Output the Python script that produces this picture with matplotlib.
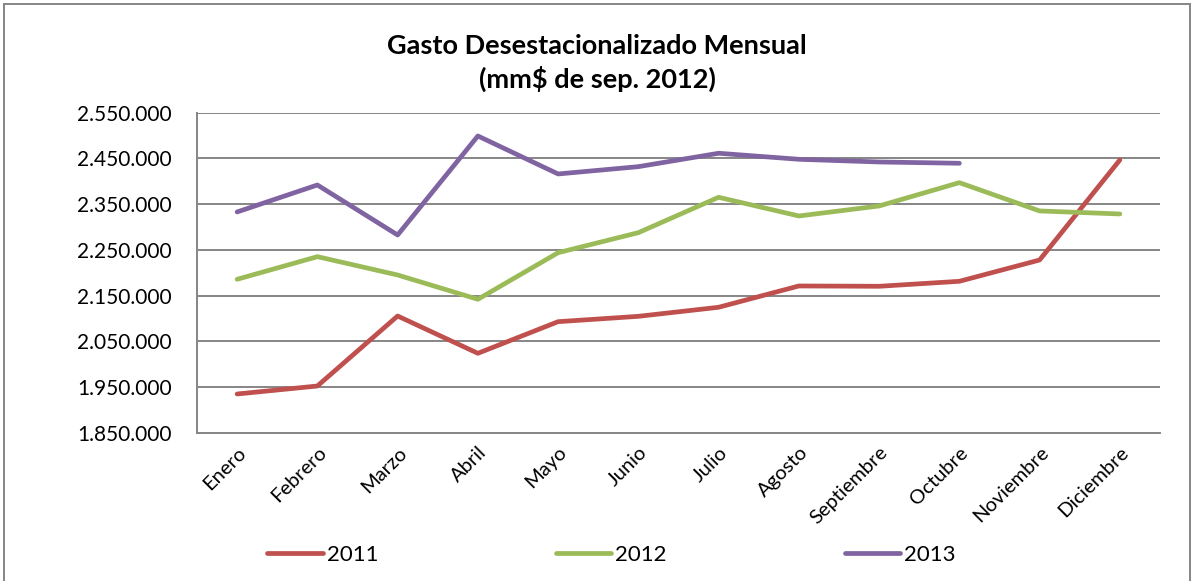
import matplotlib
matplotlib.use("Agg")
import numpy as np
import matplotlib.pyplot as plt
from matplotlib.ticker import FuncFormatter
from matplotlib.patches import Rectangle

# Datos (mm$ de sep. 2012)
meses = ['Enero', 'Febrero', 'Marzo', 'Abril', 'Mayo', 'Junio', 'Julio',
         'Agosto', 'Septiembre', 'Octubre', 'Noviembre', 'Diciembre']
gasto_2011 = [1934600, 1952100, 2105200, 2023600, 2092800, 2104500, 2124300,
              2170900, 2170200, 2181100, 2227700, 2446500]
gasto_2012 = [2185500, 2235000, 2194900, 2141800, 2243700, 2287500, 2364900,
              2324000, 2345900, 2396900, 2335000, 2328400]
gasto_2013 = [2332800, 2391800, 2282400, 2499000, 2415900, 2431900, 2461200,
              2448000, 2442100, 2439300]

plt.rcParams['font.family'] = ['Lato', 'DejaVu Sans']

fig = plt.figure(figsize=(11.94, 5.81), dpi=100)
ax = fig.add_axes([0.165, 0.2553, 0.8065, 0.5508])

x = range(len(meses))
ax.plot(x, gasto_2011, color='#C0504D', lw=3.4, label='2011', solid_capstyle='round')
ax.plot(x, gasto_2012, color='#9BBB59', lw=3.4, label='2012', solid_capstyle='round')
ax.plot(range(len(gasto_2013)), gasto_2013, color='#8064A2', lw=3.4, label='2013',
        solid_capstyle='round')

ax.set_xlim(-0.5, len(meses) - 0.5)
ax.set_ylim(1850000, 2550000)
ax.set_yticks(np.arange(1850000, 2550001, 100000))
ax.yaxis.set_major_formatter(FuncFormatter(lambda v, p: f"{v:,.0f}".replace(",", ".")))
ax.set_xticks(list(x))
ax.set_xticklabels(meses, rotation=45, ha='right', rotation_mode='anchor', fontsize=14.5)
ax.tick_params(axis='y', labelsize=15, length=0, pad=18)
ax.tick_params(axis='x', length=0, pad=8)

ax.grid(axis='y', color='#868686', lw=1.4)
ax.set_axisbelow(True)
for s in ['top', 'right']:
    ax.spines[s].set_visible(False)
for s in ['left', 'bottom']:
    ax.spines[s].set_color('#868686')
    ax.spines[s].set_linewidth(1.4)

fig.text(0.5, 0.92, 'Gasto Desestacionalizado Mensual', ha='center', va='center',
         fontsize=19.5, fontweight='bold')
fig.text(0.5, 0.864, '(mm$ de sep. 2012)', ha='center', va='center',
         fontsize=19.5, fontweight='bold')

fig.legend(loc='center', bbox_to_anchor=(0.512, 0.045), ncol=3, frameon=False,
           prop={'family': ['Lato', 'DejaVu Sans'], 'size': 16},
           handlelength=2.5, columnspacing=8.0, handletextpad=0.18)

# borde exterior del grafico
fig.patches.append(Rectangle((4 / 1194, -0.05), 1186 / 1194, 1.05 - 4 / 581,
                             transform=fig.transFigure, fill=False,
                             edgecolor='#868686', lw=1.4))

fig.savefig('out.png', dpi=100)
